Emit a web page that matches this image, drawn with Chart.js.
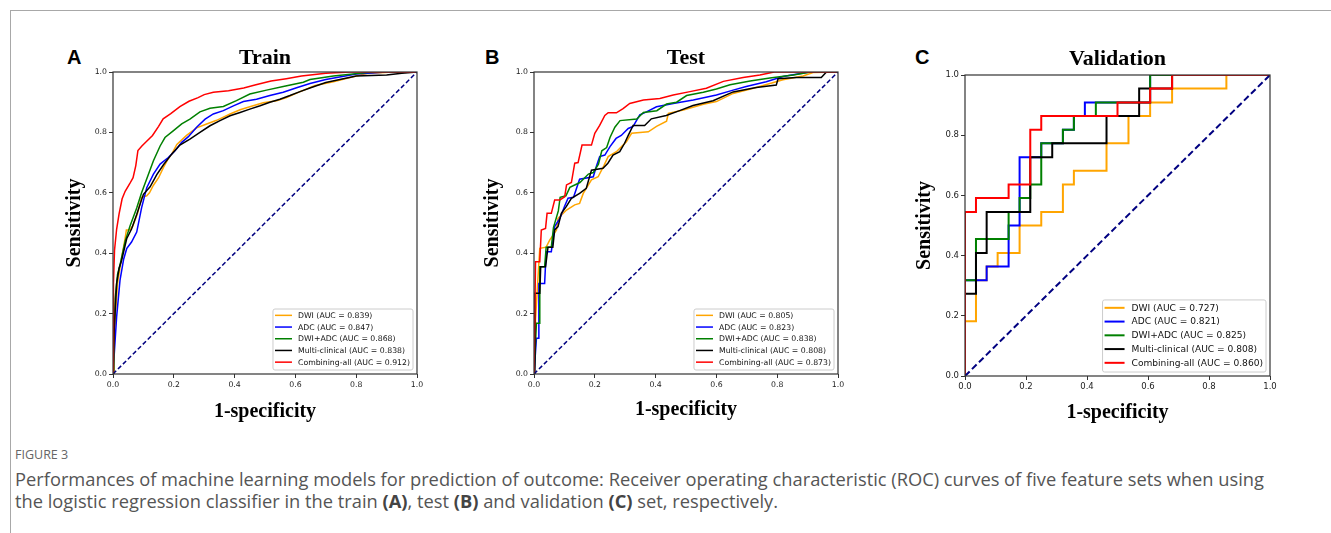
<!DOCTYPE html>
<html>
<head>
<meta charset="utf-8">
<script src="https://cdn.jsdelivr.net/npm/chart.js@4.4.1/dist/chart.umd.min.js"></script>
<style>
  body { margin: 0; width: 1331px; height: 533px; background: #fff; position: relative; overflow: hidden; }
  .rule-top { position: absolute; left: 10px; top: 10px; width: 1321px; border-top: 1px solid #a8a8a8; }
  .rule-left { position: absolute; left: 10px; top: 10px; height: 523px; border-left: 1px solid #a8a8a8; }
  canvas { position: absolute; }
  .letter { position: absolute; font: bold 20px "Liberation Sans", Arial, sans-serif; line-height: 20px; color: #000; }
  .figlabel { position: absolute; left: 15px; top: 447px; font: 12.5px "Open Sans", sans-serif; color: #666; line-height: 16px; }
  .caption { position: absolute; left: 15px; top: 468px; font: 18.3px "Open Sans", sans-serif; color: #555; line-height: 22px; white-space: nowrap; }
  .caption b { color: #444; }
</style>
</head>
<body>
<div class="rule-top"></div>
<div class="rule-left"></div>

<div class="letter" style="left:67px; top:47px">A</div>
<div class="letter" style="left:485px; top:47px">B</div>
<div class="letter" style="left:915px; top:47px">C</div>

<canvas id="chartA" width="380" height="394" style="left:60px; top:30px"></canvas>
<canvas id="chartB" width="380" height="394" style="left:481px; top:30px"></canvas>
<canvas id="chartC" width="381" height="393" style="left:912px; top:33px"></canvas>

<div class="figlabel">FIGURE 3</div>
<div class="caption">Performances of machine learning models for prediction of outcome: Receiver operating characteristic (ROC) curves of five feature sets when using<br>the logistic regression classifier in the train <b>(A)</b>, test <b>(B)</b> and validation <b>(C)</b> set, respectively.</div>

<script>
// ---- data (fpr, tpr pairs) ----
const SERIES = ['DWI', 'ADC', 'DWI+ADC', 'Multi-clinical', 'Combining-all'];
const COLORS = ['#ffa500', '#0000ff', '#008000', '#000000', '#ff0000'];

const trainAuc = [0.839, 0.847, 0.868, 0.838, 0.912];
const testAuc = [0.805, 0.823, 0.838, 0.808, 0.873];
const valAuc = [0.727, 0.821, 0.825, 0.808, 0.860];

// Train
const trainDwi = [[0,0],[0.003,0.08],[0.008,0.2],[0.015,0.3],[0.027,0.377],[0.04,0.45],[0.044,0.477],[0.055,0.477],[0.065,0.49],[0.08,0.53],[0.094,0.585],[0.111,0.59],[0.12,0.6],[0.133,0.625],[0.15,0.65],[0.166,0.684],[0.18,0.71],[0.193,0.728],[0.21,0.76],[0.242,0.79],[0.275,0.815],[0.308,0.828],[0.341,0.84],[0.385,0.861],[0.418,0.875],[0.45,0.885],[0.494,0.898],[0.538,0.905],[0.571,0.915],[0.604,0.93],[0.665,0.955],[0.725,0.968],[0.78,0.982],[0.835,0.995],[0.92,1],[1,1]];
const trainAdc = [[0,0],[0.005,0.08],[0.012,0.19],[0.023,0.31],[0.035,0.38],[0.045,0.415],[0.061,0.437],[0.078,0.47],[0.094,0.55],[0.111,0.617],[0.133,0.662],[0.155,0.695],[0.182,0.717],[0.204,0.739],[0.226,0.767],[0.248,0.786],[0.275,0.817],[0.303,0.844],[0.33,0.861],[0.363,0.872],[0.396,0.888],[0.429,0.902],[0.472,0.91],[0.516,0.922],[0.56,0.933],[0.604,0.948],[0.648,0.962],[0.7,0.975],[0.8,0.993],[0.9,1],[1,1]];
const trainDwiAdc = [[0,0],[0.003,0.12],[0.007,0.25],[0.015,0.33],[0.023,0.36],[0.04,0.44],[0.056,0.49],[0.078,0.55],[0.094,0.6],[0.116,0.66],[0.133,0.706],[0.155,0.755],[0.171,0.783],[0.198,0.805],[0.226,0.828],[0.253,0.844],[0.286,0.868],[0.319,0.88],[0.363,0.886],[0.406,0.905],[0.45,0.927],[0.505,0.94],[0.56,0.952],[0.626,0.966],[0.648,0.975],[0.725,0.987],[0.835,0.998],[0.89,1],[1,1]];
const trainClinical = [[0,0],[0.004,0.15],[0.012,0.3],[0.02,0.35],[0.028,0.375],[0.045,0.448],[0.061,0.48],[0.078,0.528],[0.1,0.595],[0.122,0.62],[0.144,0.66],[0.166,0.693],[0.193,0.728],[0.22,0.758],[0.253,0.778],[0.286,0.8],[0.319,0.822],[0.352,0.839],[0.385,0.855],[0.418,0.866],[0.45,0.877],[0.484,0.888],[0.516,0.9],[0.549,0.91],[0.582,0.922],[0.615,0.935],[0.65,0.948],[0.7,0.965],[0.8,0.987],[0.9,0.99],[0.95,0.996],[1,1]];
const trainAll = [[0,0],[0,0.15],[0.003,0.3],[0.005,0.41],[0.012,0.48],[0.02,0.53],[0.03,0.58],[0.04,0.605],[0.055,0.63],[0.066,0.65],[0.075,0.69],[0.082,0.74],[0.095,0.755],[0.11,0.77],[0.13,0.79],[0.15,0.82],[0.165,0.845],[0.19,0.862],[0.22,0.885],[0.25,0.903],[0.28,0.915],[0.3,0.925],[0.33,0.933],[0.38,0.938],[0.43,0.947],[0.47,0.958],[0.52,0.97],[0.57,0.978],[0.62,0.987],[0.7,0.996],[0.78,1],[1,1]];

// Test
const testDwi = [[0,0],[0.005,0.18],[0.012,0.3],[0.019,0.416],[0.04,0.42],[0.052,0.444],[0.063,0.46],[0.074,0.477],[0.079,0.515],[0.107,0.543],[0.134,0.56],[0.15,0.565],[0.162,0.598],[0.175,0.62],[0.189,0.643],[0.211,0.653],[0.23,0.69],[0.244,0.72],[0.271,0.736],[0.288,0.753],[0.304,0.769],[0.321,0.797],[0.376,0.802],[0.403,0.82],[0.436,0.837],[0.442,0.863],[0.491,0.874],[0.557,0.893],[0.6,0.902],[0.655,0.929],[0.731,0.949],[0.819,0.974],[0.885,0.987],[0.918,0.998],[1,1]];
const testAdc = [[0,0],[0.008,0.118],[0.016,0.118],[0.016,0.3],[0.035,0.3],[0.04,0.405],[0.057,0.405],[0.068,0.488],[0.085,0.515],[0.1,0.554],[0.112,0.582],[0.13,0.585],[0.15,0.645],[0.195,0.653],[0.205,0.687],[0.216,0.72],[0.233,0.725],[0.25,0.753],[0.27,0.78],[0.287,0.79],[0.31,0.813],[0.326,0.82],[0.348,0.858],[0.37,0.868],[0.403,0.885],[0.458,0.896],[0.524,0.907],[0.6,0.924],[0.655,0.94],[0.698,0.952],[0.764,0.968],[0.819,0.985],[0.906,1],[1,1]];
const testDwiAdc = [[0,0],[0.008,0.168],[0.019,0.168],[0.019,0.355],[0.035,0.355],[0.04,0.42],[0.057,0.42],[0.064,0.485],[0.08,0.54],[0.086,0.585],[0.105,0.59],[0.118,0.618],[0.151,0.634],[0.179,0.662],[0.195,0.667],[0.212,0.695],[0.223,0.739],[0.239,0.75],[0.25,0.783],[0.266,0.817],[0.283,0.839],[0.338,0.844],[0.36,0.866],[0.404,0.872],[0.436,0.894],[0.469,0.9],[0.502,0.922],[0.557,0.933],[0.6,0.944],[0.645,0.958],[0.711,0.97],[0.776,0.98],[0.853,0.99],[0.91,1],[1,1]];
const testClinical = [[0,0],[0.003,0.267],[0.019,0.267],[0.022,0.355],[0.038,0.355],[0.046,0.42],[0.062,0.42],[0.068,0.477],[0.079,0.488],[0.09,0.532],[0.106,0.554],[0.123,0.582],[0.15,0.598],[0.172,0.615],[0.189,0.675],[0.227,0.681],[0.243,0.698],[0.26,0.725],[0.282,0.736],[0.298,0.764],[0.31,0.79],[0.326,0.823],[0.364,0.823],[0.386,0.845],[0.435,0.856],[0.479,0.872],[0.523,0.889],[0.589,0.905],[0.655,0.934],[0.731,0.949],[0.797,0.957],[0.803,0.978],[0.863,0.982],[0.945,0.982],[0.962,1],[1,1]];
const testAll = [[0,0],[0.005,0.372],[0.019,0.372],[0.024,0.477],[0.038,0.482],[0.043,0.532],[0.057,0.532],[0.068,0.576],[0.085,0.576],[0.101,0.587],[0.107,0.626],[0.123,0.634],[0.134,0.698],[0.145,0.7],[0.158,0.758],[0.189,0.758],[0.2,0.797],[0.216,0.823],[0.233,0.856],[0.244,0.865],[0.271,0.865],[0.293,0.879],[0.315,0.896],[0.36,0.907],[0.414,0.912],[0.458,0.924],[0.513,0.935],[0.567,0.946],[0.623,0.969],[0.688,0.982],[0.743,0.99],[0.79,1],[1,1]];

// Validation (step curves)
const valDwi = [[0,0],[0,0.182],[0.036,0.182],[0.036,0.318],[0.071,0.318],[0.071,0.364],[0.107,0.364],[0.107,0.409],[0.179,0.409],[0.179,0.5],[0.25,0.5],[0.25,0.545],[0.321,0.545],[0.321,0.636],[0.357,0.636],[0.357,0.682],[0.464,0.682],[0.464,0.773],[0.536,0.773],[0.536,0.864],[0.607,0.864],[0.607,0.909],[0.679,0.909],[0.679,0.955],[0.857,0.955],[0.857,1],[1,1]];
const valAdc = [[0,0],[0,0.318],[0.071,0.318],[0.071,0.364],[0.143,0.364],[0.143,0.5],[0.179,0.5],[0.179,0.727],[0.25,0.727],[0.25,0.773],[0.321,0.773],[0.321,0.818],[0.357,0.818],[0.357,0.864],[0.393,0.864],[0.393,0.909],[0.607,0.909],[0.607,1],[1,1]];
const valDwiAdc = [[0,0],[0,0.318],[0.036,0.318],[0.036,0.455],[0.143,0.455],[0.143,0.545],[0.179,0.545],[0.179,0.591],[0.214,0.591],[0.214,0.636],[0.25,0.636],[0.25,0.773],[0.321,0.773],[0.321,0.818],[0.357,0.818],[0.357,0.864],[0.429,0.864],[0.429,0.909],[0.607,0.909],[0.607,1],[1,1]];
const valClinical = [[0,0],[0,0.273],[0.036,0.273],[0.036,0.409],[0.071,0.409],[0.071,0.545],[0.214,0.545],[0.214,0.727],[0.286,0.727],[0.286,0.773],[0.464,0.773],[0.464,0.864],[0.571,0.864],[0.571,0.955],[0.679,0.955],[0.679,1],[1,1]];
const valAll = [[0,0],[0,0.545],[0.036,0.545],[0.036,0.591],[0.143,0.591],[0.143,0.636],[0.214,0.636],[0.214,0.818],[0.25,0.818],[0.25,0.864],[0.5,0.864],[0.5,0.909],[0.607,0.909],[0.607,0.955],[0.679,0.955],[0.679,1],[1,1]];

const SERIF = '"Liberation Serif", "Times New Roman", serif';
const SANS = '"DejaVu Sans", sans-serif';

// spines on all four sides plus a matplotlib-like legend in the lower right
const rocDecor = {
    id: 'rocDecor',
    afterDatasetsDraw(chart, args, opts) {
        const { ctx, chartArea: a } = chart;
        ctx.save();
        ctx.strokeStyle = '#333';
        ctx.lineWidth = 1.2;
        ctx.strokeRect(a.left, a.top, a.right - a.left, a.bottom - a.top);

        const items = chart.data.datasets.filter(d => d.inLegend);
        ctx.font = `${opts.size}px ${SANS}`;
        const textW = Math.max(...items.map(d => ctx.measureText(d.label).width));
        const boxW = opts.padX + opts.handle + opts.gap + textW + opts.padX + 1;
        const boxH = opts.padTop + items.length * opts.row + opts.padBottom;
        const x0 = a.right - opts.inset - boxW;
        const y0 = a.bottom - opts.inset - boxH;

        ctx.beginPath();
        if (ctx.roundRect) ctx.roundRect(x0, y0, boxW, boxH, 2);
        else ctx.rect(x0, y0, boxW, boxH);
        ctx.fillStyle = 'rgba(255,255,255,0.8)';
        ctx.fill();
        ctx.strokeStyle = '#cccccc';
        ctx.lineWidth = 1;
        ctx.stroke();

        ctx.textBaseline = 'middle';
        ctx.textAlign = 'left';
        items.forEach((d, i) => {
            const cy = y0 + opts.padTop + opts.row * (i + 0.5);
            ctx.beginPath();
            ctx.moveTo(x0 + opts.padX, cy);
            ctx.lineTo(x0 + opts.padX + opts.handle, cy);
            ctx.strokeStyle = d.borderColor;
            ctx.lineWidth = d.borderWidth;
            ctx.stroke();
            ctx.fillStyle = '#111';
            ctx.fillText(d.label, x0 + opts.padX + opts.handle + opts.gap, cy + 0.5);
        });
        ctx.restore();
    }
};

function makePanel(canvasId, title, curves, aucs, cfg) {
    const datasets = curves.map((curve, i) => ({
        label: `${SERIES[i]} (AUC = ${aucs[i].toFixed(3)})`,
        data: curve.map(p => ({ x: p[0], y: p[1] })),
        borderColor: COLORS[i],
        borderWidth: cfg.lineW,
        showLine: true,
        pointRadius: 0,
        tension: 0,
        order: SERIES.length - i,
        inLegend: true
    }));
    // chance line
    datasets.push({
        data: [{ x: 0, y: 0 }, { x: 1, y: 1 }],
        borderColor: '#000080',
        borderWidth: cfg.diagW,
        borderDash: cfg.dash,
        showLine: true,
        pointRadius: 0,
        order: 0
    });

    const tickStyle = {
        stepSize: 0.2,
        color: '#222',
        font: { family: SANS, size: cfg.tickSize },
        padding: cfg.tickPad,
        callback: v => v.toFixed(1)
    };
    const gridStyle = { display: true, drawOnChartArea: false, drawTicks: true, tickLength: 4, color: '#333', lineWidth: 1 };

    return new Chart(document.getElementById(canvasId), {
        type: 'scatter',
        data: { datasets },
        plugins: [rocDecor],
        options: {
            responsive: false,
            animation: false,
            devicePixelRatio: 1,
            layout: { padding: { left: 0, top: 0, bottom: 0, right: 23 } },
            scales: {
                x: {
                    type: 'linear', min: 0, max: 1,
                    ticks: { ...tickStyle, maxRotation: 0 },
                    grid: gridStyle,
                    border: { display: false },
                    title: {
                        display: true, text: '1-specificity', color: '#000',
                        font: { family: SERIF, size: 20, weight: 'bold', lineHeight: 1.2 },
                        padding: { top: 0, bottom: cfg.xTitlePad }
                    },
                    afterFit: scale => { scale.height = 50; }
                },
                y: {
                    type: 'linear', min: 0, max: 1,
                    ticks: tickStyle,
                    grid: gridStyle,
                    border: { display: false },
                    title: {
                        display: true, text: 'Sensitivity', color: '#000',
                        font: { family: SERIF, size: 20, weight: 'bold', lineHeight: 1.2 },
                        padding: { top: cfg.yTitlePad, bottom: 0 }
                    },
                    afterFit: scale => { scale.width = 53; }
                }
            },
            plugins: {
                legend: { display: false },
                tooltip: { enabled: false },
                title: {
                    display: true, text: title, color: '#000',
                    fullSize: false,
                    font: { family: SERIF, size: 22, weight: 'bold', lineHeight: 1.2 },
                    padding: cfg.titlePad
                },
                rocDecor: cfg.legend
            }
        }
    });
}

const smallLegend = { size: 7.75, row: 11.7, handle: 17, gap: 6, padX: 2, padTop: 0.5, padBottom: 2, inset: 4 };

makePanel('chartA', 'Train',
    [trainDwi, trainAdc, trainDwiAdc, trainClinical, trainAll], trainAuc,
    { lineW: 1.5, diagW: 1.5, dash: [4.5, 2.5], tickSize: 7.75, tickPad: 2,
      titlePad: { top: 14.8, bottom: 0.8 }, yTitlePad: 3, xTitlePad: 0, legend: smallLegend });

makePanel('chartB', 'Test',
    [testDwi, testAdc, testDwiAdc, testClinical, testAll], testAuc,
    { lineW: 1.5, diagW: 1.5, dash: [4.5, 2.5], tickSize: 7.75, tickPad: 2,
      titlePad: { top: 14.8, bottom: 0.8 }, yTitlePad: 0, xTitlePad: 2.5, legend: smallLegend });

makePanel('chartC', 'Validation',
    [valDwi, valAdc, valDwiAdc, valClinical, valAll], valAuc,
    { lineW: 2, diagW: 2, dash: [6.5, 3.3], tickSize: 8.5, tickPad: 2,
      titlePad: { top: 12.8, bottom: 2.8 }, yTitlePad: 1, xTitlePad: 1,
      legend: { size: 9.1, row: 13.75, handle: 20, gap: 7, padX: 2, padTop: 1, padBottom: 2.3, inset: 4 } });
</script>
</body>
</html>
